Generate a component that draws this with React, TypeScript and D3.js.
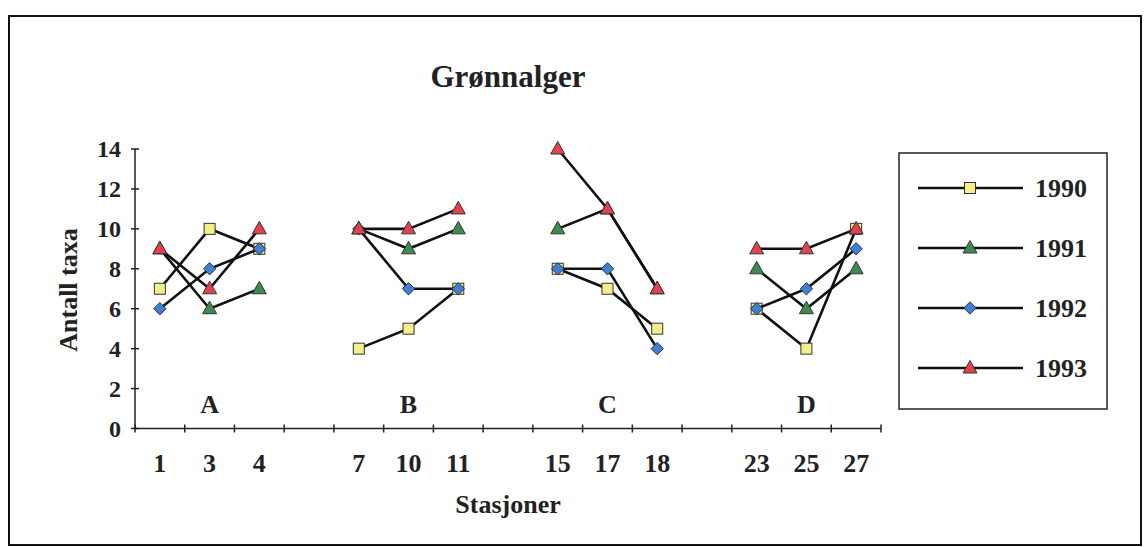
import React from "react";
import * as d3 from "d3";

// ---- data ----
const slots: string[] = ["1", "3", "4", "", "7", "10", "11", " ", "15", "17", "18", "  ", "23", "25", "27"];
const stations: string[] = ["1", "3", "4", "7", "10", "11", "15", "17", "18", "23", "25", "27"];
const groups: { label: string; mid: string }[] = [
  { label: "A", mid: "3" },
  { label: "B", mid: "10" },
  { label: "C", mid: "17" },
  { label: "D", mid: "25" },
];
const groupStations: string[][] = [
  ["1", "3", "4"],
  ["7", "10", "11"],
  ["15", "17", "18"],
  ["23", "25", "27"],
];
const years: string[] = ["1990", "1991", "1992", "1993"];
const v1990: number[] = [7, 10, 9, 4, 5, 7, 8, 7, 5, 6, 4, 10];
const v1991: number[] = [9, 6, 7, 10, 9, 10, 10, 11, 7, 8, 6, 8];
const v1992: number[] = [6, 8, 9, 10, 7, 7, 8, 8, 4, 6, 7, 9];
const v1993: number[] = [9, 7, 10, 10, 10, 11, 14, 11, 7, 9, 9, 10];
const yTicks: number[] = [0, 2, 4, 6, 8, 10, 12, 14];

const seriesValues = [v1990, v1991, v1992, v1993];
const markerKinds = ["square", "triangle", "diamond", "triangle"];
const markerFills = ["#f4ef8c", "#3f8a4e", "#3f80d6", "#e2414d"];

const FONT = "'Liberation Serif', 'Times New Roman', serif";

function Marker({ kind, x, y, fill }: { kind: string; x: number; y: number; fill: string }) {
  const stroke = "#333";
  if (kind === "square") {
    return <rect x={x - 5.5} y={y - 5.5} width={11} height={11} fill={fill} stroke={stroke} strokeWidth={1} />;
  }
  if (kind === "diamond") {
    const s = 6.2;
    return (
      <path d={`M${x},${y - s}L${x + s},${y}L${x},${y + s}L${x - s},${y}Z`} fill={fill} stroke={stroke} strokeWidth={1} />
    );
  }
  const w = 7;
  return (
    <path d={`M${x},${y - 7.5}L${x + w},${y + 5}L${x - w},${y + 5}Z`} fill={fill} stroke={stroke} strokeWidth={1} />
  );
}

export default function App() {
  const W = 1144;
  const H = 547;
  const x = d3.scaleBand<string>().domain(slots).range([135, 881]).paddingInner(0).paddingOuter(0);
  const y = d3.scaleLinear().domain([0, 14]).range([428.5, 149]);
  const cx = (s: string) => (x(s) as number) + x.bandwidth() / 2;
  const line = d3
    .line<[number, number]>()
    .x((d) => d[0])
    .y((d) => d[1]);

  const tickXs = d3.range(slots.length + 1).map((i) => 135 + i * x.step());

  const legendX0 = 918;
  const legendX1 = 1023;
  const legendY = [188, 248, 308, 368];

  return (
    <svg
      width={W}
      height={H}
      style={{ position: "absolute", left: 0, top: 0, background: "#fff" }}
      fontFamily={FONT}
    >
      <rect x={0} y={0} width={W} height={H} fill="#fff" />
      {/* outer frame */}
      <rect x={9} y={16} width={1132} height={529} fill="none" stroke="#111" strokeWidth={2} />

      {/* title */}
      <text x={508} y={87} textAnchor="middle" fontSize={31} fontWeight="bold" fill="#222">
        Grønnalger
      </text>

      {/* y axis */}
      <line x1={135} x2={135} y1={y(14)} y2={y(0)} stroke="#222" strokeWidth={1.5} />
      {yTicks.map((t) => (
        <g key={t}>
          <line x1={131} x2={139} y1={y(t)} y2={y(t)} stroke="#222" strokeWidth={1.5} />
          <text x={121} y={y(t)} dy="0.35em" textAnchor="end" fontSize={24} fontWeight="bold" fill="#222">
            {t}
          </text>
        </g>
      ))}
      <text
        transform={`translate(77,290) rotate(-90)`}
        textAnchor="middle"
        fontSize={26}
        fontWeight="bold"
        fill="#222"
      >
        Antall taxa
      </text>

      {/* x axis */}
      <line x1={135} x2={881} y1={y(0)} y2={y(0)} stroke="#222" strokeWidth={1.5} />
      {tickXs.map((tx, i) => (
        <line key={i} x1={tx} x2={tx} y1={y(0) - 4} y2={y(0) + 4} stroke="#222" strokeWidth={1.5} />
      ))}
      {stations.map((s) => (
        <text key={s} x={cx(s)} y={472} textAnchor="middle" fontSize={26} fontWeight="bold" fill="#222">
          {s}
        </text>
      ))}
      <text x={508} y={513} textAnchor="middle" fontSize={26} fontWeight="bold" fill="#222">
        Stasjoner
      </text>

      {/* group labels */}
      {groups.map((g) => (
        <text key={g.label} x={cx(g.mid)} y={413} textAnchor="middle" fontSize={26} fontWeight="bold" fill="#222">
          {g.label}
        </text>
      ))}

      {/* series */}
      {years.map((yr, si) => {
        const vals = seriesValues[si];
        return (
          <g key={yr}>
            {groupStations.map((gs, gi) => {
              const pts: [number, number][] = gs.map((s) => [cx(s), y(vals[stations.indexOf(s)])]);
              return <path key={gi} d={line(pts) as string} fill="none" stroke="#111" strokeWidth={2.6} />;
            })}
            {stations.map((s, i) => (
              <Marker key={s} kind={markerKinds[si]} x={cx(s)} y={y(vals[i])} fill={markerFills[si]} />
            ))}
          </g>
        );
      })}

      {/* legend */}
      <rect x={899} y={153} width={208} height={256} fill="#fff" stroke="#222" strokeWidth={1.5} />
      {years.map((yr, si) => (
        <g key={yr}>
          <line x1={legendX0} x2={legendX1} y1={legendY[si]} y2={legendY[si]} stroke="#111" strokeWidth={2.6} />
          <Marker kind={markerKinds[si]} x={970} y={legendY[si]} fill={markerFills[si]} />
          <text x={1035} y={legendY[si]} dy="0.35em" fontSize={26} fontWeight="bold" fill="#222">
            {yr}
          </text>
        </g>
      ))}
    </svg>
  );
}
